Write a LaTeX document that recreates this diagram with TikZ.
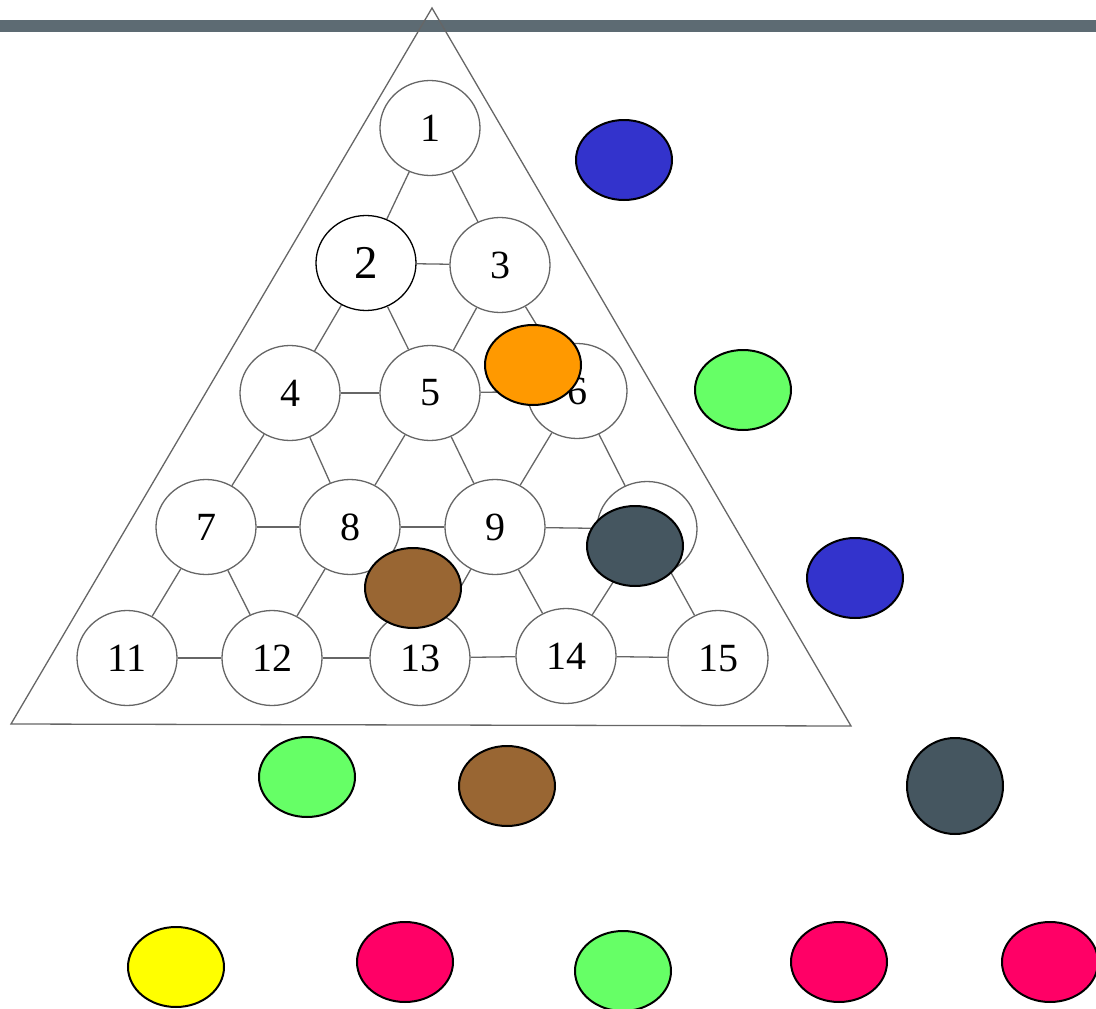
\documentclass[tikz,border=0pt]{standalone}
\usepackage{fontspec}
\setmainfont{Liberation Serif}
\usetikzlibrary{shapes.geometric}
\definecolor{bargray}{HTML}{5D6B73}
\definecolor{slate}{HTML}{455660}
\definecolor{tokblue}{HTML}{3333CC}
\definecolor{tokorange}{HTML}{FF9900}
\definecolor{tokgreen}{HTML}{66FF66}
\definecolor{tokbrown}{HTML}{996633}
\definecolor{tokyellow}{HTML}{FFFF00}
\definecolor{tokred}{HTML}{FF0066}
\tikzstyle{hole}=[ellipse, draw=black!60, line width=1.3pt, fill=white, minimum width=100pt, minimum height=95pt, inner sep=0pt, font=\fontsize{40}{44}\selectfont]
\tikzstyle{token}=[ellipse, draw=black, line width=2pt, minimum width=96pt, minimum height=80pt, inner sep=0pt]
\newcommand{\hole}{\node[hole]}
\newcommand{\token}{\node[token]}

\begin{document}
\begin{tikzpicture}[x=1pt,y=-1pt]
\useasboundingbox (0,0) rectangle (1096,1009);

\fill[bargray] (0,20) rectangle (1096,32);
\draw[black!60, line width=1.3pt] (432,8) -- (851,726) -- (11,724) -- cycle;

\hole (1) at (430,128) {1};
    \hole[draw=black, font=\fontsize{47}{50}\selectfont] (2) at (366,263) {2};
    \hole (3) at (500,265) {3};
    \hole (4) at (290,393) {4};
    \hole (5) at (430,393) {5};
    \hole (6) at (577,391) {6};
    \hole (7) at (206,527) {7};
    \hole (8) at (350,527) {8};
    \hole (9) at (495,527) {9};
    \hole (10) at (647,529) {};
    \hole (11) at (127,658) {11};
    \hole (12) at (272,658) {12};
    \hole (13) at (420,658) {13};
    \hole (14) at (566,656) {14};
    \hole (15) at (718,658) {15};
    ;
    \path[-, draw=black!60, line width=1.3pt]
    (1) edge (2)
    (1) edge (3)
    (2) edge (3)
    (2) edge (4)
    (2) edge (5)
    (3) edge (5)
    (3) edge (6)
    (4) edge (5)
    (5) edge (6)
    (4) edge (7)
    (4) edge (8)
    (5) edge (8)
    (5) edge (9)
    (6) edge (9)
    (6) edge (10)
    (7) edge (8)
    (8) edge (9)
    (9) edge (10)
    (7) edge (11)
    (7) edge (12)
    (8) edge (12)
    (8) edge (13)
    (9) edge (13)
    (9) edge (14)
    (10) edge (14)
    (10) edge (15)
    (11) edge (12)
    (12) edge (13)
    (13) edge (14)
    (14) edge (15)
    ;

\token[fill=tokblue] (b1) at (624,160) {};
    \token[fill=tokorange] (o1) at (533,365) {};
    \token[fill=tokgreen] (g1) at (743,390) {};
    \token[fill=slate] (s1) at (635,546) {};
    \token[fill=tokbrown] (br1) at (413,588) {};
    \token[fill=tokblue] (b2) at (855,578) {};
    \token[fill=tokgreen] (g2) at (307,777) {};
    \token[fill=tokbrown] (br2) at (507,786) {};
    \token[fill=slate, minimum height=96pt] (s2) at (955,786) {};
    \token[fill=tokyellow] (y1) at (176,967) {};
    \token[fill=tokred] (r1) at (405,962) {};
    \token[fill=tokgreen] (g3) at (623,971) {};
    \token[fill=tokred] (r2) at (839,962) {};
    \token[fill=tokred] (r3) at (1050,962) {};
\end{tikzpicture}
\end{document}
